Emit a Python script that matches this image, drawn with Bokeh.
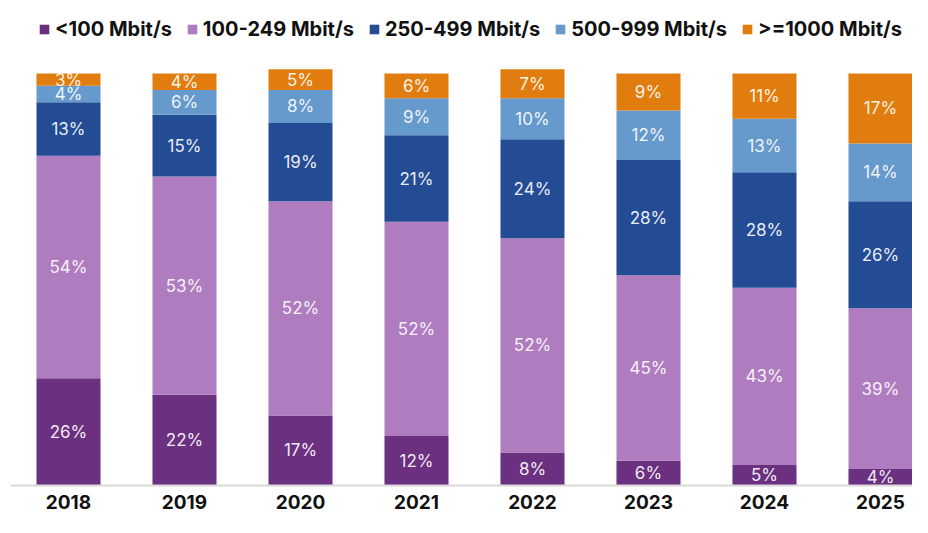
import numpy as np
from bokeh.plotting import figure
from bokeh.models import (ColumnDataSource, Range1d, FixedTicker, Legend, LegendItem)
from bokeh.core.properties import value
from bokeh.embed import file_html
from bokeh.resources import INLINE

years = ["2018", "2019", "2020", "2021", "2022", "2023", "2024", "2025"]
series_names = ["<100 Mbit/s", "100-249 Mbit/s", "250-499 Mbit/s", "500-999 Mbit/s", ">=1000 Mbit/s"]
lt100 = [26, 22, 17, 12, 8, 6, 5, 4]
s100_249 = [54, 53, 52, 52, 52, 45, 43, 39]
s250_499 = [13, 15, 19, 21, 24, 28, 28, 26]
s500_999 = [4, 6, 8, 9, 10, 12, 13, 14]
ge1000 = [3, 4, 5, 6, 7, 9, 11, 17]
colors = ["#6B3080", "#B07CC0", "#234C94", "#6699CC", "#E07D0E"]

FONT = "Inter"
keys = ["s0", "s1", "s2", "s3", "s4"]
series = [lt100, s100_249, s250_499, s500_999, ge1000]

xs = list(range(len(years)))
data = {"x": xs}
for k, s in zip(keys, series):
    data[k] = s
src = ColumnDataSource(data)

p = figure(width=912, height=517, output_backend="svg", toolbar_location=None,
           x_range=Range1d(-0.5, 7.276), y_range=Range1d(0, 117.7),
           min_border_left=10, min_border_right=0, min_border_top=0, min_border_bottom=32)
p.outline_line_color = None
p.xgrid.visible = False
p.ygrid.visible = False
p.yaxis.visible = False
p.background_fill_color = "white"
p.border_fill_color = "white"

rs = p.vbar_stack(keys, x="x", width=0.552, color=colors, source=src, line_color=None)

# labels
arr = np.array(series, dtype=float)
cum = np.cumsum(arr, axis=0)
lx, ly, lt = [], [], []
for i in range(arr.shape[0]):
    for j in range(arr.shape[1]):
        lx.append(xs[j])
        ly.append(cum[i, j] - arr[i, j] / 2)
        lt.append(f"{int(arr[i, j])}%")
p.text(x=lx, y=ly, text=lt, text_align="center", text_baseline="middle",
       text_font=value(FONT), text_font_size="17px", text_color="white", text_alpha=0.92)

ax = p.xaxis[0]
ax.ticker = FixedTicker(ticks=xs)
ax.major_label_overrides = {i: y for i, y in enumerate(years)}
ax.major_label_text_font = FONT
ax.major_label_text_font_size = "19px"
ax.major_label_text_font_style = "bold"
ax.major_label_text_color = "#111111"
ax.major_tick_line_color = None
ax.minor_tick_line_color = None
ax.major_tick_in = 0
ax.major_tick_out = 0
ax.minor_tick_in = 0
ax.minor_tick_out = 0
ax.axis_line_color = "#D9D9D9"
ax.axis_line_width = 2
ax.major_label_standoff = 9

legend = Legend(items=[LegendItem(label=n, renderers=[r]) for n, r in zip(series_names, rs)],
                orientation="horizontal", location=(28, 444))
legend.glyph_width = 12
legend.glyph_height = 12
legend.label_standoff = 5
legend.spacing = 14
legend.padding = 0
legend.margin = 0
legend.border_line_color = None
legend.background_fill_alpha = 0
legend.label_text_font = FONT
legend.label_text_font_size = "20px"
legend.label_text_font_style = "bold"
legend.label_text_color = "#111111"
p.add_layout(legend, "center")

open("out.html", "w").write(file_html(p, INLINE))
